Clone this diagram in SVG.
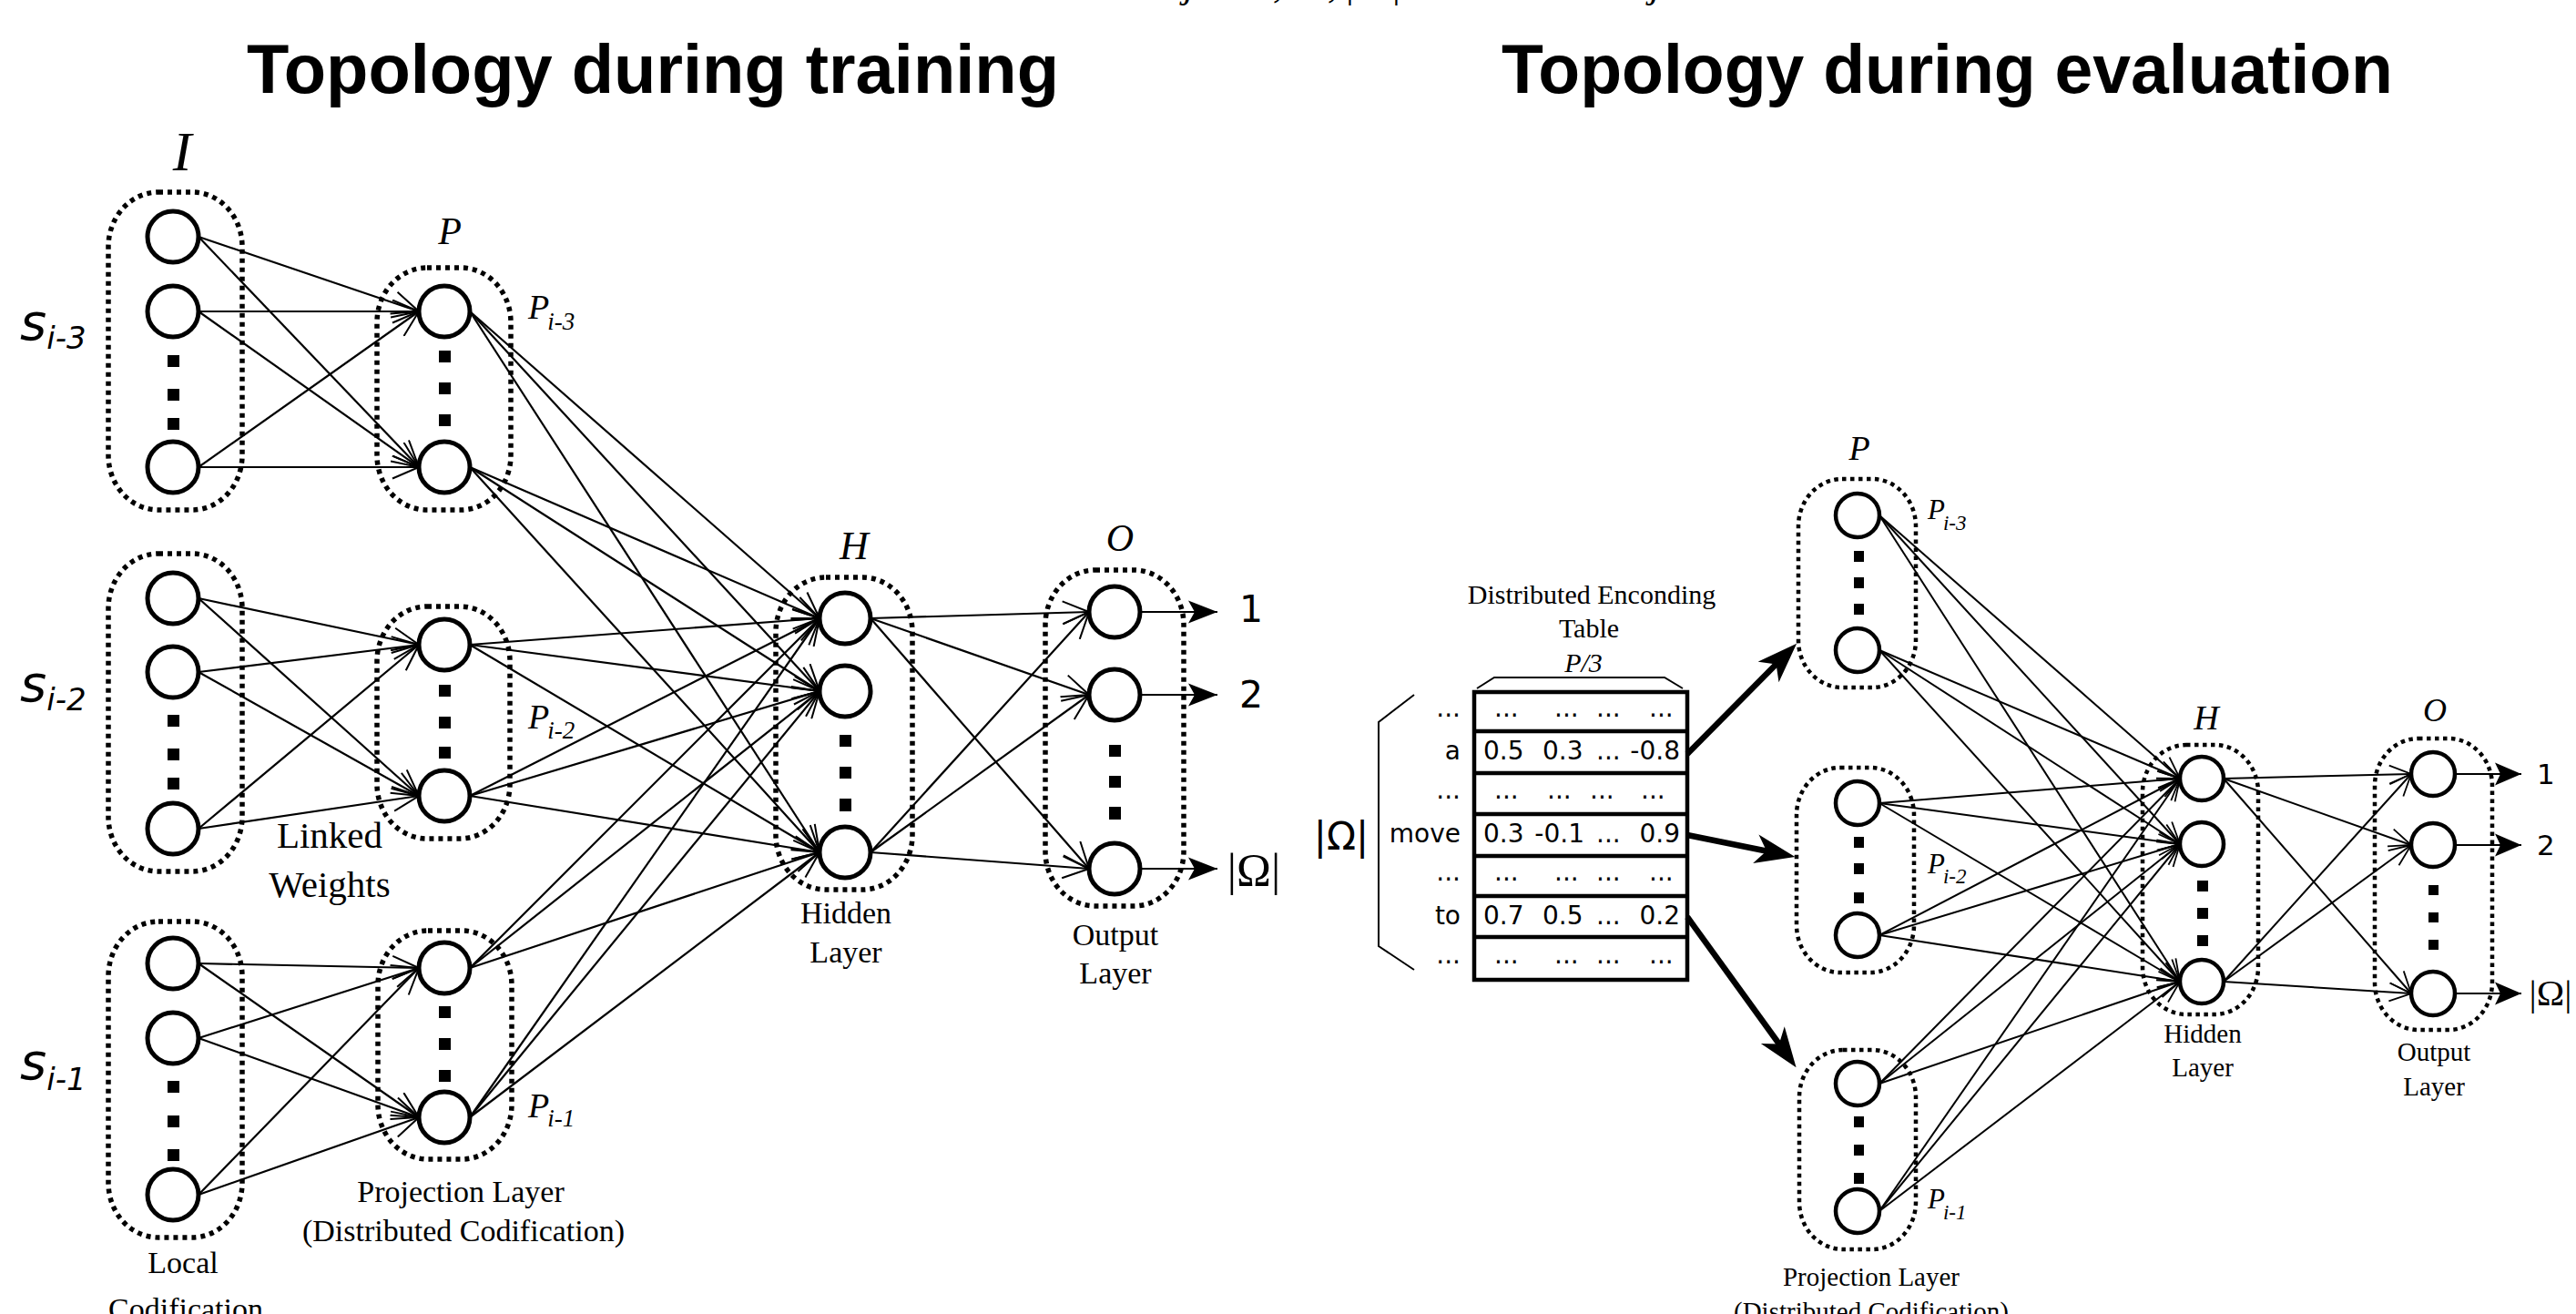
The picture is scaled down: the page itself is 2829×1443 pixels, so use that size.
<svg xmlns="http://www.w3.org/2000/svg" width="2829" height="1443" viewBox="0 0 2829 1443">
  <style>
    .title { font-family: "Liberation Sans", Arial, sans-serif; font-weight: bold; font-size: 76px; fill: #000; }
    .var { font-family: "Liberation Serif", "Times New Roman", serif; font-style: italic; fill: #000; }
    .lbl { font-family: "Liberation Serif", "Times New Roman", serif; fill: #000; text-anchor: middle; }
    .sans { font-family: "DejaVu Sans", "Liberation Sans", sans-serif; fill: #000; }
    .cell { font-family: "DejaVu Sans", "Liberation Sans", sans-serif; font-size: 28px; fill: #000; }
    .grpL { fill: none; stroke: #000; stroke-width: 5.5; stroke-dasharray: 5 5; }
    .grpR { fill: none; stroke: #000; stroke-width: 4.5; stroke-dasharray: 4.5 4.5; }
    .nodeL { fill: #fff; stroke: #000; stroke-width: 5; }
    .nodeR { fill: #fff; stroke: #000; stroke-width: 4.5; }
    .dot { fill: #000; }
    .eL { stroke: #000; stroke-width: 2.2; fill: none; marker-end: url(#veeL); }
    .eR { stroke: #000; stroke-width: 2; fill: none; marker-end: url(#veeR); }
    .outL { stroke: #000; stroke-width: 2.2; fill: none; marker-end: url(#headL); }
    .outR { stroke: #000; stroke-width: 2; fill: none; marker-end: url(#headR); }
    .thick { stroke: #000; stroke-width: 6.5; fill: none; marker-end: url(#bigHead); }
    .thin { stroke: #000; stroke-width: 2; fill: none; }
  </style>
  <defs>
    <marker id="veeL" viewBox="0 0 32 27" refX="30" refY="13.5" markerWidth="32" markerHeight="27" markerUnits="userSpaceOnUse" orient="auto">
      <path d="M1,1 L30,13.5 L1,26" fill="none" stroke="#000" stroke-width="2"/>
    </marker>
    <marker id="veeR" viewBox="0 0 27 23" refX="25" refY="11.5" markerWidth="27" markerHeight="23" markerUnits="userSpaceOnUse" orient="auto">
      <path d="M1,1.5 L25,11.5 L1,21.5" fill="none" stroke="#000" stroke-width="1.8"/>
    </marker>
    <marker id="headL" viewBox="0 0 32 26" refX="32" refY="13" markerWidth="32" markerHeight="26" markerUnits="userSpaceOnUse" orient="auto">
      <path d="M0,0.5 L32,13 L0,25.5 L7,13 Z" fill="#000"/>
    </marker>
    <marker id="headR" viewBox="0 0 29 26" refX="29" refY="13" markerWidth="29" markerHeight="26" markerUnits="userSpaceOnUse" orient="auto">
      <path d="M0,0.5 L29,13 L0,25.5 L6,13 Z" fill="#000"/>
    </marker>
    <marker id="bigHead" viewBox="0 0 44 34" refX="14" refY="17" markerWidth="44" markerHeight="34" markerUnits="userSpaceOnUse" orient="auto">
      <path d="M0,1 L44,17 L0,33 L12,17 Z" fill="#000"/>
    </marker>
  </defs>

  <rect x="0" y="0" width="2829" height="1443" fill="#fff"/>

  <!-- formula line running off the top edge -->
  <g id="top-formula" class="var" font-size="44">
    <text x="1300" y="-3">j</text>
    <text x="1398" y="-3">,</text>
    <text x="1458" y="-3">,</text>
    <text x="1478" y="-3" font-style="normal">|</text>
    <text x="1529" y="-3" font-style="normal">|</text>
    <text x="1812" y="-3">j</text>
  </g>

  <!-- titles -->
  <text id="title-training" class="title" x="271" y="102" textLength="892" lengthAdjust="spacingAndGlyphs">Topology during training</text>
  <text id="title-evaluation" class="title" x="1649" y="102" textLength="979" lengthAdjust="spacingAndGlyphs">Topology during evaluation</text>

  <!-- ===================== training topology ===================== -->
  <g id="train-layers">
    <rect class="grpL" x="119" y="211" width="147" height="349" rx="55" ry="60"/>
    <rect class="grpL" x="119" y="608" width="147" height="349" rx="55" ry="60"/>
    <rect class="grpL" x="119" y="1012" width="147" height="347" rx="55" ry="60"/>
    <rect class="grpL" x="414" y="294" width="147" height="266" rx="55" ry="60"/>
    <rect class="grpL" x="414" y="666" width="146" height="255" rx="55" ry="60"/>
    <rect class="grpL" x="415" y="1022" width="147" height="251" rx="55" ry="60"/>
    <rect class="grpL" x="852" y="634" width="150" height="343" rx="55" ry="60"/>
    <rect class="grpL" x="1148" y="626" width="152" height="369" rx="55" ry="60"/>
  </g>

  <g id="train-connectors">
    <!-- local codification to projection, s(i-3) -->
    <line class="eL" x1="218" y1="260" x2="460" y2="342"/>
    <line class="eL" x1="218" y1="260" x2="460" y2="513"/>
    <line class="eL" x1="218" y1="342" x2="460" y2="342"/>
    <line class="eL" x1="218" y1="342" x2="460" y2="513"/>
    <line class="eL" x1="218" y1="513" x2="460" y2="342"/>
    <line class="eL" x1="218" y1="513" x2="460" y2="513"/>
    <!-- s(i-2) -->
    <line class="eL" x1="218" y1="657" x2="460" y2="708"/>
    <line class="eL" x1="218" y1="657" x2="460" y2="874"/>
    <line class="eL" x1="218" y1="738" x2="460" y2="708"/>
    <line class="eL" x1="218" y1="738" x2="460" y2="874"/>
    <line class="eL" x1="218" y1="910" x2="460" y2="708"/>
    <line class="eL" x1="218" y1="910" x2="460" y2="874"/>
    <!-- s(i-1) -->
    <line class="eL" x1="218" y1="1058" x2="460" y2="1063"/>
    <line class="eL" x1="218" y1="1058" x2="460" y2="1227"/>
    <line class="eL" x1="218" y1="1140" x2="460" y2="1063"/>
    <line class="eL" x1="218" y1="1140" x2="460" y2="1227"/>
    <line class="eL" x1="218" y1="1312" x2="460" y2="1063"/>
    <line class="eL" x1="218" y1="1312" x2="460" y2="1227"/>
    <!-- projection to hidden -->
    <line class="eL" x1="516" y1="342" x2="900" y2="679"/>
    <line class="eL" x1="516" y1="342" x2="900" y2="759"/>
    <line class="eL" x1="516" y1="342" x2="900" y2="936"/>
    <line class="eL" x1="516" y1="513" x2="900" y2="679"/>
    <line class="eL" x1="516" y1="513" x2="900" y2="759"/>
    <line class="eL" x1="516" y1="513" x2="900" y2="936"/>
    <line class="eL" x1="516" y1="708" x2="900" y2="679"/>
    <line class="eL" x1="516" y1="708" x2="900" y2="759"/>
    <line class="eL" x1="516" y1="708" x2="900" y2="936"/>
    <line class="eL" x1="516" y1="874" x2="900" y2="679"/>
    <line class="eL" x1="516" y1="874" x2="900" y2="759"/>
    <line class="eL" x1="516" y1="874" x2="900" y2="936"/>
    <line class="eL" x1="516" y1="1063" x2="900" y2="679"/>
    <line class="eL" x1="516" y1="1063" x2="900" y2="759"/>
    <line class="eL" x1="516" y1="1063" x2="900" y2="936"/>
    <line class="eL" x1="516" y1="1227" x2="900" y2="679"/>
    <line class="eL" x1="516" y1="1227" x2="900" y2="759"/>
    <line class="eL" x1="516" y1="1227" x2="900" y2="936"/>
    <!-- hidden to output -->
    <line class="eL" x1="956" y1="679" x2="1196" y2="672"/>
    <line class="eL" x1="956" y1="679" x2="1196" y2="763"/>
    <line class="eL" x1="956" y1="679" x2="1196" y2="954"/>
    <line class="eL" x1="956" y1="936" x2="1196" y2="672"/>
    <line class="eL" x1="956" y1="936" x2="1196" y2="763"/>
    <line class="eL" x1="956" y1="936" x2="1196" y2="954"/>
    <!-- outputs -->
    <line class="outL" x1="1252" y1="672" x2="1337" y2="672"/>
    <line class="outL" x1="1252" y1="763" x2="1337" y2="763"/>
    <line class="outL" x1="1252" y1="954" x2="1337" y2="954"/>
  </g>

  <g id="train-input-1">
    <circle class="nodeL" cx="190" cy="260" r="28"/>
    <circle class="nodeL" cx="190" cy="342" r="28"/>
    <rect class="dot" x="184" y="390" width="13" height="13"/>
    <rect class="dot" x="184" y="427" width="13" height="13"/>
    <rect class="dot" x="184" y="459" width="13" height="13"/>
    <circle class="nodeL" cx="190" cy="513" r="28"/>
  </g>
  <g id="train-input-2">
    <circle class="nodeL" cx="190" cy="657" r="28"/>
    <circle class="nodeL" cx="190" cy="738" r="28"/>
    <rect class="dot" x="184" y="785" width="13" height="13"/>
    <rect class="dot" x="184" y="822" width="13" height="13"/>
    <rect class="dot" x="184" y="854" width="13" height="13"/>
    <circle class="nodeL" cx="190" cy="910" r="28"/>
  </g>
  <g id="train-input-3">
    <circle class="nodeL" cx="190" cy="1058" r="28"/>
    <circle class="nodeL" cx="190" cy="1140" r="28"/>
    <rect class="dot" x="184" y="1187" width="13" height="13"/>
    <rect class="dot" x="184" y="1225" width="13" height="13"/>
    <rect class="dot" x="184" y="1262" width="13" height="13"/>
    <circle class="nodeL" cx="190" cy="1312" r="28"/>
  </g>
  <g id="train-proj-1">
    <circle class="nodeL" cx="488" cy="342" r="28"/>
    <rect class="dot" x="482" y="385" width="13" height="13"/>
    <rect class="dot" x="482" y="420" width="13" height="13"/>
    <rect class="dot" x="482" y="455" width="13" height="13"/>
    <circle class="nodeL" cx="488" cy="513" r="28"/>
  </g>
  <g id="train-proj-2">
    <circle class="nodeL" cx="488" cy="708" r="28"/>
    <rect class="dot" x="482" y="752" width="13" height="13"/>
    <rect class="dot" x="482" y="787" width="13" height="13"/>
    <rect class="dot" x="482" y="820" width="13" height="13"/>
    <circle class="nodeL" cx="488" cy="874" r="28"/>
  </g>
  <g id="train-proj-3">
    <circle class="nodeL" cx="488" cy="1063" r="28"/>
    <rect class="dot" x="482" y="1105" width="13" height="13"/>
    <rect class="dot" x="482" y="1140" width="13" height="13"/>
    <rect class="dot" x="482" y="1175" width="13" height="13"/>
    <circle class="nodeL" cx="488" cy="1227" r="28"/>
  </g>
  <g id="train-hidden">
    <circle class="nodeL" cx="928" cy="679" r="28"/>
    <circle class="nodeL" cx="928" cy="759" r="28"/>
    <rect class="dot" x="922" y="807" width="13" height="13"/>
    <rect class="dot" x="922" y="842" width="13" height="13"/>
    <rect class="dot" x="922" y="877" width="13" height="14"/>
    <circle class="nodeL" cx="928" cy="936" r="28"/>
  </g>
  <g id="train-output">
    <circle class="nodeL" cx="1224" cy="672" r="28"/>
    <circle class="nodeL" cx="1224" cy="763" r="28"/>
    <rect class="dot" x="1218" y="818" width="13" height="13"/>
    <rect class="dot" x="1218" y="852" width="13" height="13"/>
    <rect class="dot" x="1218" y="886" width="13" height="14"/>
    <circle class="nodeL" cx="1224" cy="954" r="28"/>
  </g>

  <g id="train-labels">
    <text class="var" x="200" y="187" font-size="62" text-anchor="middle">I</text>
    <text class="var" x="494" y="268" font-size="42" text-anchor="middle">P</text>
    <text class="var" x="938" y="614" font-size="44" text-anchor="middle">H</text>
    <text class="var" x="1230" y="605" font-size="42" text-anchor="middle">O</text>
    <text class="sans" x="22" y="373" font-size="56" font-style="oblique">s<tspan font-size="34" dy="10">i-3</tspan></text>
    <text class="sans" x="22" y="770" font-size="56" font-style="oblique">s<tspan font-size="34" dy="10">i-2</tspan></text>
    <text class="sans" x="22" y="1185" font-size="56" font-style="oblique">s<tspan font-size="34" dy="12">i-1</tspan></text>
    <text class="var" x="580" y="350" font-size="38">P<tspan font-size="27" dx="-2" dy="12">i-3</tspan></text>
    <text class="var" x="580" y="800" font-size="38">P<tspan font-size="27" dx="-2" dy="11">i-2</tspan></text>
    <text class="var" x="580" y="1227" font-size="38">P<tspan font-size="27" dx="-2" dy="10">i-1</tspan></text>
    <text class="lbl" x="362" y="931" font-size="41">Linked</text>
    <text class="lbl" x="362" y="985" font-size="41">Weights</text>
    <text class="lbl" x="201" y="1398" font-size="34">Local</text>
    <text class="lbl" x="204" y="1449" font-size="34">Codification</text>
    <text class="lbl" x="506" y="1320" font-size="34">Projection Layer</text>
    <text class="lbl" x="509" y="1363" font-size="34">(Distributed Codification)</text>
    <text class="lbl" x="929" y="1014" font-size="34">Hidden</text>
    <text class="lbl" x="929" y="1057" font-size="34">Layer</text>
    <text class="lbl" x="1225" y="1038" font-size="34">Output</text>
    <text class="lbl" x="1225" y="1080" font-size="34">Layer</text>
    <text class="sans" x="1361" y="683" font-size="41">1</text>
    <text class="sans" x="1361" y="777" font-size="41">2</text>
    <text class="lbl" x="1377" y="972" font-size="51">|Ω|</text>
  </g>

  <!-- ===================== evaluation topology ===================== -->
  <g id="encoding-table">
    <text class="lbl" x="1748" y="663" font-size="30">Distributed Enconding</text>
    <text class="lbl" x="1745" y="700" font-size="30">Table</text>
    <text class="var" x="1739" y="738" font-size="30" text-anchor="middle">P/3</text>
    <polyline class="thin" points="1622,756 1641,744 1828,744 1848,756"/>
    <polyline class="thin" points="1553,763 1514,793 1514,1039 1553,1065"/>
    <text class="sans" x="1473" y="933" font-size="42" text-anchor="middle">|Ω|</text>
    <rect x="1619" y="760" width="234" height="316" fill="#fff" stroke="#000" stroke-width="4.5"/>
    <g stroke="#000" stroke-width="4.5">
      <line x1="1619" y1="803" x2="1853" y2="803"/>
      <line x1="1619" y1="849" x2="1853" y2="849"/>
      <line x1="1619" y1="894" x2="1853" y2="894"/>
      <line x1="1619" y1="940" x2="1853" y2="940"/>
      <line x1="1619" y1="984" x2="1853" y2="984"/>
      <line x1="1619" y1="1029" x2="1853" y2="1029"/>
    </g>
    <!-- row words -->
    <g class="cell" text-anchor="end">
      <text x="1604" y="787">...</text>
      <text x="1604" y="834">a</text>
      <text x="1604" y="877">...</text>
      <text x="1604" y="925">move</text>
      <text x="1604" y="967">...</text>
      <text x="1604" y="1015">to</text>
      <text x="1604" y="1058">...</text>
    </g>
    <!-- row vectors -->
    <g class="cell">
      <text x="1641" y="787">...</text><text x="1707" y="787">...</text><text x="1753" y="787">...</text><text x="1811" y="787">...</text>
      <text x="1629" y="834">0.5</text><text x="1694" y="834">0.3</text><text x="1753" y="834">...</text><text x="1845" y="834" text-anchor="end">-0.8</text>
      <text x="1641" y="877">...</text><text x="1699" y="877">...</text><text x="1746" y="877">...</text><text x="1802" y="877">...</text>
      <text x="1629" y="925">0.3</text><text x="1740" y="925" text-anchor="end">-0.1</text><text x="1753" y="925">...</text><text x="1845" y="925" text-anchor="end">0.9</text>
      <text x="1641" y="967">...</text><text x="1707" y="967">...</text><text x="1753" y="967">...</text><text x="1811" y="967">...</text>
      <text x="1629" y="1015">0.7</text><text x="1694" y="1015">0.5</text><text x="1753" y="1015">...</text><text x="1845" y="1015" text-anchor="end">0.2</text>
      <text x="1641" y="1058">...</text><text x="1707" y="1058">...</text><text x="1753" y="1058">...</text><text x="1811" y="1058">...</text>
    </g>
  </g>

  <g id="eval-layers">
    <rect class="grpR" x="1975" y="526" width="129" height="229" rx="48" ry="52"/>
    <rect class="grpR" x="1973" y="843" width="129" height="225" rx="48" ry="52"/>
    <rect class="grpR" x="1976" y="1153" width="128" height="219" rx="48" ry="52"/>
    <rect class="grpR" x="2353" y="818" width="127" height="296" rx="48" ry="52"/>
    <rect class="grpR" x="2608" y="811" width="129" height="320" rx="48" ry="52"/>
  </g>

  <g id="eval-connectors">
    <!-- table rows to projection blocks -->
    <line class="thick" x1="1853" y1="828" x2="1952" y2="728"/>
    <line class="thick" x1="1853" y1="917" x2="1942" y2="935"/>
    <line class="thick" x1="1853" y1="1007" x2="1955" y2="1148"/>
    <!-- projection to hidden -->
    <line class="eR" x1="2064" y1="566" x2="2394" y2="855"/>
    <line class="eR" x1="2064" y1="566" x2="2394" y2="927"/>
    <line class="eR" x1="2064" y1="566" x2="2394" y2="1078"/>
    <line class="eR" x1="2064" y1="714" x2="2394" y2="855"/>
    <line class="eR" x1="2064" y1="714" x2="2394" y2="927"/>
    <line class="eR" x1="2064" y1="714" x2="2394" y2="1078"/>
    <line class="eR" x1="2064" y1="882" x2="2394" y2="855"/>
    <line class="eR" x1="2064" y1="882" x2="2394" y2="927"/>
    <line class="eR" x1="2064" y1="882" x2="2394" y2="1078"/>
    <line class="eR" x1="2064" y1="1027" x2="2394" y2="855"/>
    <line class="eR" x1="2064" y1="1027" x2="2394" y2="927"/>
    <line class="eR" x1="2064" y1="1027" x2="2394" y2="1078"/>
    <line class="eR" x1="2064" y1="1190" x2="2394" y2="855"/>
    <line class="eR" x1="2064" y1="1190" x2="2394" y2="927"/>
    <line class="eR" x1="2064" y1="1190" x2="2394" y2="1078"/>
    <line class="eR" x1="2064" y1="1330" x2="2394" y2="855"/>
    <line class="eR" x1="2064" y1="1330" x2="2394" y2="927"/>
    <line class="eR" x1="2064" y1="1330" x2="2394" y2="1078"/>
    <!-- hidden to output -->
    <line class="eR" x1="2442" y1="855" x2="2648" y2="850"/>
    <line class="eR" x1="2442" y1="855" x2="2648" y2="928"/>
    <line class="eR" x1="2442" y1="855" x2="2648" y2="1091"/>
    <line class="eR" x1="2442" y1="1078" x2="2648" y2="850"/>
    <line class="eR" x1="2442" y1="1078" x2="2648" y2="928"/>
    <line class="eR" x1="2442" y1="1078" x2="2648" y2="1091"/>
    <!-- outputs -->
    <line class="outR" x1="2696" y1="850" x2="2769" y2="850"/>
    <line class="outR" x1="2696" y1="928" x2="2769" y2="928"/>
    <line class="outR" x1="2696" y1="1091" x2="2769" y2="1091"/>
  </g>

  <g id="eval-proj-1">
    <circle class="nodeR" cx="2040" cy="566" r="24"/>
    <rect class="dot" x="2036" y="605" width="11" height="12"/>
    <rect class="dot" x="2036" y="634" width="11" height="12"/>
    <rect class="dot" x="2036" y="663" width="11" height="12"/>
    <circle class="nodeR" cx="2040" cy="714" r="24"/>
  </g>
  <g id="eval-proj-2">
    <circle class="nodeR" cx="2040" cy="882" r="24"/>
    <rect class="dot" x="2036" y="919" width="11" height="12"/>
    <rect class="dot" x="2036" y="948" width="11" height="12"/>
    <rect class="dot" x="2036" y="980" width="11" height="12"/>
    <circle class="nodeR" cx="2040" cy="1027" r="24"/>
  </g>
  <g id="eval-proj-3">
    <circle class="nodeR" cx="2040" cy="1190" r="24"/>
    <rect class="dot" x="2036" y="1226" width="11" height="12"/>
    <rect class="dot" x="2036" y="1257" width="11" height="12"/>
    <rect class="dot" x="2036" y="1288" width="11" height="12"/>
    <circle class="nodeR" cx="2040" cy="1330" r="24"/>
  </g>
  <g id="eval-hidden">
    <circle class="nodeR" cx="2418" cy="855" r="24"/>
    <circle class="nodeR" cx="2418" cy="927" r="24"/>
    <rect class="dot" x="2413" y="967" width="12" height="12"/>
    <rect class="dot" x="2413" y="997" width="12" height="12"/>
    <rect class="dot" x="2413" y="1027" width="12" height="12"/>
    <circle class="nodeR" cx="2418" cy="1078" r="24"/>
  </g>
  <g id="eval-output">
    <circle class="nodeR" cx="2672" cy="850" r="24"/>
    <circle class="nodeR" cx="2672" cy="928" r="24"/>
    <rect class="dot" x="2667" y="972" width="11" height="11"/>
    <rect class="dot" x="2667" y="1002" width="11" height="11"/>
    <rect class="dot" x="2667" y="1032" width="11" height="11"/>
    <circle class="nodeR" cx="2672" cy="1091" r="24"/>
  </g>

  <g id="eval-labels">
    <text class="var" x="2042" y="505" font-size="38" text-anchor="middle">P</text>
    <text class="var" x="2423" y="801" font-size="38" text-anchor="middle">H</text>
    <text class="var" x="2674" y="792" font-size="36" text-anchor="middle">O</text>
    <text class="var" x="2117" y="570" font-size="31">P<tspan font-size="23" dx="-2" dy="12">i-3</tspan></text>
    <text class="var" x="2117" y="959" font-size="31">P<tspan font-size="23" dx="-2" dy="11">i-2</tspan></text>
    <text class="var" x="2117" y="1327" font-size="31">P<tspan font-size="23" dx="-2" dy="12">i-1</tspan></text>
    <text class="lbl" x="2055" y="1412" font-size="29">Projection Layer</text>
    <text class="lbl" x="2055" y="1450" font-size="29">(Distributed Codification)</text>
    <text class="lbl" x="2419" y="1145" font-size="29">Hidden</text>
    <text class="lbl" x="2419" y="1182" font-size="29">Layer</text>
    <text class="lbl" x="2673" y="1165" font-size="29">Output</text>
    <text class="lbl" x="2673" y="1203" font-size="29">Layer</text>
    <text class="sans" x="2786" y="861" font-size="31">1</text>
    <text class="sans" x="2786" y="939" font-size="31">2</text>
    <text class="lbl" x="2801" y="1104" font-size="41">|Ω|</text>
  </g>
</svg>
